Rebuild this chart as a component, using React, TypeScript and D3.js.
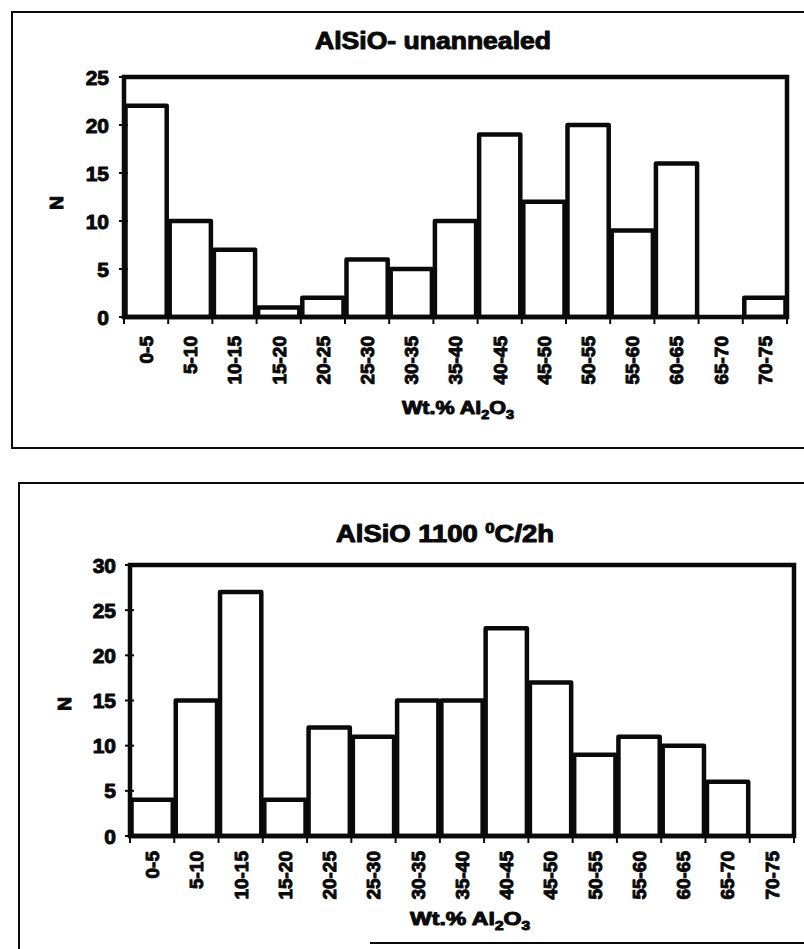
import React from "react";
import * as d3 from "d3";

const categories = ["0-5","5-10","10-15","15-20","20-25","25-30","30-35","35-40","40-45","45-50","50-55","55-60","60-65","65-70","70-75"];
const unannealedN = [22, 10, 7, 1, 2, 6, 5, 10, 19, 12, 20, 9, 16, 0, 2];
const annealedN = [4, 15, 27, 4, 12, 11, 15, 15, 23, 17, 9, 11, 10, 6, 0];
const ticksTop = [0, 5, 10, 15, 20, 25];
const ticksBottom = [0, 5, 10, 15, 20, 25, 30];

const FONT = "'Liberation Sans', Arial, Helvetica, sans-serif";
const INK = "#0a0a0a";

type ChartProps = {
  values: number[];
  ticks: number[];
  maxY: number;
  px0: number; px1: number; py0: number; py1: number;
  frame: { x: number; y: number; w: number; h: number };
  title: React.ReactNode;
  titleX: number; titleY: number; titleLen: number;
  nX: number; nY: number;
  labelOffset: number;
  xTitleX: number; xTitleY: number; xTitleLen: number;
  tickLabelX: number;
  partialBottom?: number;
};

function Chart(p: ChartProps) {
  const x = d3.scaleBand<string>().domain(categories).range([p.px0, p.px1]).padding(0);
  const y = d3.scaleLinear().domain([0, p.maxY]).range([p.py1, p.py0]);
  const bw = x.bandwidth();
  const textStyle = { fontFamily: FONT, fontWeight: 700, fill: INK, stroke: INK, strokeWidth: 1, strokeLinejoin: "round" } as const;
  return (
    <g>
      {p.partialBottom === undefined ? (
        <path d={`M${p.frame.x + p.frame.w},${p.frame.y}H${p.frame.x}V${p.frame.y + p.frame.h}H${p.frame.x + p.frame.w}`} fill="none" stroke={INK} strokeWidth={2} />
      ) : (
        <g>
          <path d={`M${p.frame.x + p.frame.w},${p.frame.y}H${p.frame.x}V${p.frame.y + p.frame.h}`} fill="none" stroke={INK} strokeWidth={2} />
          <line x1={p.partialBottom} x2={p.frame.x + p.frame.w} y1={p.frame.y + p.frame.h - 6} y2={p.frame.y + p.frame.h - 6} stroke={INK} strokeWidth={2} />
        </g>
      )}
      <text x={p.titleX} y={p.titleY} textAnchor="middle" fontSize={23} textLength={p.titleLen} lengthAdjust="spacingAndGlyphs" style={textStyle}>{p.title}</text>
      {p.values.map((v, i) => (
        <rect key={i} x={(x(categories[i]) as number) + 1.5} y={y(v)} width={bw - 3} height={p.py1 - y(v)} fill="#fff" stroke={INK} strokeWidth={4.5} strokeLinejoin="round" />
      ))}
      <rect x={p.px0} y={p.py0} width={p.px1 - p.px0} height={p.py1 - p.py0} fill="none" stroke={INK} strokeWidth={4.5} />
      {p.ticks.map((t) => (
        <g key={t}>
          <line x1={p.px0 - 5} x2={p.px0 + 4} y1={y(t)} y2={y(t)} stroke={INK} strokeWidth={2} />
          <text x={p.tickLabelX} y={y(t)} dy="0.36em" textAnchor="end" fontSize={21} style={textStyle}>{t}</text>
        </g>
      ))}
      {categories.map((c) => (
        <line key={c} x1={x(c) as number} x2={x(c) as number} y1={p.py1} y2={p.py1 + 7} stroke={INK} strokeWidth={2} />
      ))}
      <line x1={p.px1} x2={p.px1} y1={p.py1} y2={p.py1 + 7} stroke={INK} strokeWidth={2} />
      {categories.map((c) => {
        const cx = (x(c) as number) + bw / 2;
        const cy = p.py1 + p.labelOffset;
        return (
          <text key={c} transform={`translate(${cx},${cy}) rotate(-90)`} dy="0.36em" textAnchor="end" fontSize={19} style={textStyle}>{c}</text>
        );
      })}
      <text transform={`translate(${p.nX},${p.nY}) rotate(-90)`} dy="0.36em" textAnchor="middle" fontSize={19} style={textStyle}>N</text>
      <text x={p.xTitleX} y={p.xTitleY} textAnchor="middle" fontSize={18} textLength={p.xTitleLen} lengthAdjust="spacingAndGlyphs" style={textStyle}>
        Wt.% Al<tspan fontSize={12} dy={5}>2</tspan><tspan dy={-5}>O</tspan><tspan fontSize={12} dy={5}>3</tspan>
      </text>
    </g>
  );
}

export default function App() {
  return (
    <svg width={804} height={949} viewBox="0 0 804 949" style={{ position: "absolute", left: 0, top: 0, background: "#fff" }}>
      <rect x={0} y={0} width={804} height={949} fill="#fff" />
      <Chart
        values={unannealedN}
        ticks={ticksTop}
        maxY={25}
        px0={124} px1={787} py0={77} py1={317}
        frame={{ x: 12, y: 12, w: 820, h: 436 }}
        title={"AlSiO- unannealed"}
        titleX={433} titleY={49} titleLen={236}
        nX={56} nY={203}
        labelOffset={19}
        xTitleX={458} xTitleY={414} xTitleLen={112}
        tickLabelX={109}
      />
      <Chart
        values={annealedN}
        ticks={ticksBottom}
        maxY={30}
        px0={130} px1={794} py0={565} py1={836}
        frame={{ x: 19, y: 483, w: 820, h: 466 }}
        title={<>AlSiO 1100 <tspan fontSize={14} dy={-9}>0</tspan><tspan dy={9}>C/2h</tspan></>}
        titleX={445} titleY={542} titleLen={218}
        nX={64} nY={704}
        labelOffset={15}
        xTitleX={470} xTitleY={925} xTitleLen={120}
        tickLabelX={116}
        partialBottom={370}
      />
    </svg>
  );
}
